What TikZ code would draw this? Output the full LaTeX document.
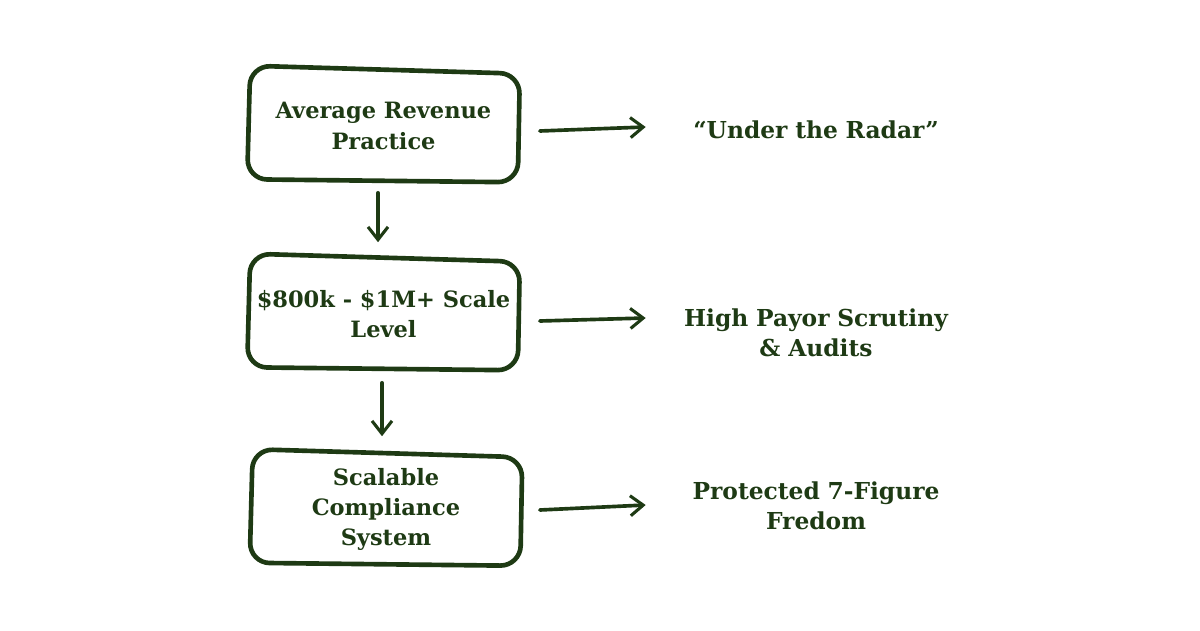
\documentclass[tikz,border=0pt]{standalone}
\usepackage{fontspec}
\setmainfont{DejaVu Serif}
\usetikzlibrary{arrows.meta,calc}
\definecolor{forest}{RGB}{30,58,20}

\newcommand\sketchbox[1]{%
  \draw[sketch] ($(#1.north west)+(5,-2)$) -- ($(#1.north east)+(-2,6)$)
    -- ($(#1.south east)+(-4,-2)$) -- ($(#1.south west)+(2,-5)$) -- cycle;}

\begin{document}
\begin{tikzpicture}[x=0.025cm,y=-0.025cm,
    every node/.style={font=\bfseries\fontsize{16.6}{21.3}\selectfont, text=forest, align=center},
    stage/.style={minimum width=6.9cm, minimum height=2.9cm, inner sep=0pt,
      font=\bfseries\fontsize{16}{21.6}\selectfont},
    outcome/.style={text width=7.2cm, inner sep=0pt},
    sketch/.style={draw=forest, line width=3.3pt, rounded corners=0.5cm, line cap=round, line join=round},
    link/.style={draw=forest, line width=2.6pt, line cap=round,
      -{Straight Barb[length=0.32cm,width=0.5cm,line width=2.2pt]}}]
    \useasboundingbox (0,0) rectangle (1200,630);

    % left column
    \node[stage] (avg) at (383.5,126) {Average Revenue\\Practice};
    \node[stage] (scale) at (383.5,314) {\$800k - \$1M+ Scale\\Level};
    \node[stage] (system) at (386,509.5) {Scalable\\Compliance\\System};
    \sketchbox{avg}
    \sketchbox{scale}
    \sketchbox{system}

    % right column
    \node[outcome] (radar) at (816,130) {“Under the Radar”};
    \node[outcome] (audit) at (816,332.5) {High Payor Scrutiny\\\& Audits};
    \node[outcome] (freedom) at (816,506) {Protected 7-Figure\\Fredom};

    \draw[link] ([shift={(-5.5,8.5)}]avg.south) -- ([shift={(-5.5,-13.5)}]scale.north);
    \draw[link] ([shift={(-1.5,10.5)}]scale.south) -- ([shift={(-4,-15)}]system.north);
    \draw[link] ([shift={(18,5)}]avg.east) -- ([shift={(-26,-3)}]radar.west);
    \draw[link] ([shift={(18,7)}]scale.east) -- ([shift={(-26,-14.5)}]audit.west);
    \draw[link] ([shift={(15.5,0.5)}]system.east) -- ([shift={(-26,-1)}]freedom.west);
\end{tikzpicture}
\end{document}
